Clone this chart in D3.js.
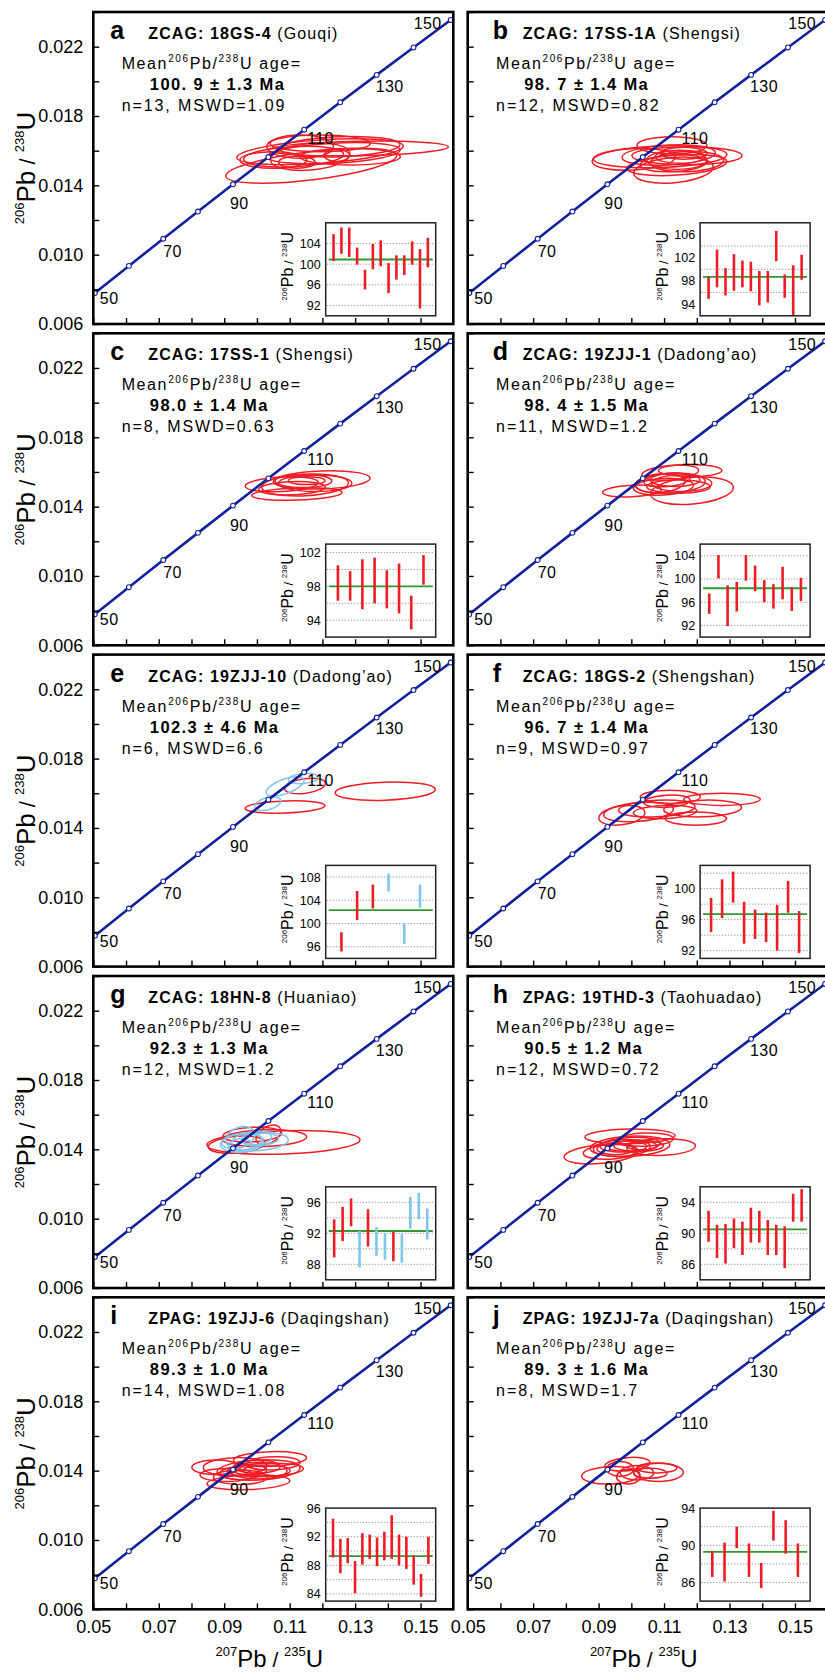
<!DOCTYPE html>
<html>
<head>
<meta charset="utf-8">
<script src="https://cdn.jsdelivr.net/npm/d3@7"></script>
<style>
  body { margin: 0; background: #fff; }
  text { font-family: "Liberation Sans", Arial, sans-serif; }
</style>
</head>
<body>
<div id="chart"></div>
<script>
// concordia reference ages (Ma) with their 207Pb/235U and 206Pb/238U ratios
const concAges = [45, 50, 60, 70, 80, 90, 100, 110, 120, 130, 140, 150, 155];
const concX = [0.04532, 0.05048, 0.06087, 0.07137, 0.08198, 0.09268, 0.10350, 0.11442, 0.12545, 0.13659, 0.14784, 0.15920, 0.16492];
const concY = [0.007005, 0.007786, 0.009351, 0.010918, 0.012487, 0.014059, 0.015633, 0.017210, 0.018789, 0.020371, 0.021955, 0.023542, 0.024336];
const concLabels = [50, 70, 90, 110, 130, 150];

const xTickVals = [0.05, 0.06, 0.07, 0.08, 0.09, 0.10, 0.11, 0.12, 0.13, 0.14, 0.15];
const xTickLabels = ['0.05', '', '0.07', '', '0.09', '', '0.11', '', '0.13', '', '0.15'];
const yTickVals = [0.006, 0.008, 0.010, 0.012, 0.014, 0.016, 0.018, 0.020, 0.022, 0.024];
const yTickLabels = ['0.006', '', '0.010', '', '0.014', '', '0.018', '', '0.022', ''];

const panelIds = ['a', 'b', 'c', 'd', 'e', 'f', 'g', 'h', 'i', 'j'];
const suites = ['ZCAG', 'ZCAG', 'ZCAG', 'ZCAG', 'ZCAG', 'ZCAG', 'ZCAG', 'ZPAG', 'ZPAG', 'ZPAG'];
const samples = ['18GS-4', '17SS-1A', '17SS-1', '19ZJJ-1', '19ZJJ-10', '18GS-2', '18HN-8', '19THD-3', '19ZJJ-6', '19ZJJ-7a'];
const localities = ['Gouqi', 'Shengsi', 'Shengsi', 'Dadong\u2019ao', 'Dadong\u2019ao', 'Shengshan', 'Huaniao', 'Taohuadao', 'Daqingshan', 'Daqingshan'];
const ageTexts = ['100. 9 \u00b1 1.3 Ma', '98. 7 \u00b1 1.4 Ma', '98.0 \u00b1 1.4 Ma', '98. 4 \u00b1 1.5 Ma', '102.3 \u00b1 4.6 Ma',
                  '96. 7 \u00b1 1.4 Ma', '92.3 \u00b1 1.3 Ma', '90.5 \u00b1 1.2 Ma', '89.3 \u00b1 1.0 Ma', '89. 3 \u00b1 1.6 Ma'];
const nValues = [13, 12, 8, 11, 6, 9, 12, 12, 14, 8];
const mswdValues = ['1.09', '0.82', '0.63', '1.2', '6.6', '0.97', '1.2', '0.72', '1.08', '1.7'];
const meanAges = [100.9, 98.7, 98.0, 98.4, 102.3, 96.7, 92.3, 90.5, 89.3, 89.3];

// inset (weighted mean plot) axes
const insetDomains = [[90, 108], [92, 108], [92, 103], [90, 106], [94, 110], [91, 103], [86, 98], [84, 96], [83, 96], [84, 94]];
const insetTicks = [[92, 96, 100, 104], [94, 98, 102, 106], [94, 98, 102], [92, 96, 100, 104], [96, 100, 104, 108],
                    [92, 96, 100], [88, 92, 96], [86, 90, 94], [84, 88, 92, 96], [86, 90, 94]];
const insetGridStep = [4, 4, 2, 4, 4, 2, 2, 2, 2, 2];

// ellipses: [207/235 centre, 206/238 centre, half-width (207/235), half-height (206/238), tilt deg, group]
const ellA = [
  [0.1166, 0.01513, 0.0263, 0.00081, -7, 0], [0.1310, 0.01613, 0.0275, 0.00042, -1, 0],
  [0.1193, 0.01594, 0.0255, 0.00067, -4, 0], [0.1122, 0.01533, 0.0056, 0.00035, 0, 0],
  [0.1244, 0.01573, 0.0039, 0.00035, 0, 0], [0.1132, 0.01623, 0.0102, 0.00067, 0, 0],
  [0.1193, 0.01642, 0.0153, 0.00048, 0, 0], [0.1112, 0.01565, 0.0153, 0.00058, -3, 0],
  [0.1234, 0.01585, 0.0204, 0.00058, -3, 0], [0.1050, 0.01546, 0.0102, 0.00048, 0, 0],
  [0.1285, 0.01565, 0.0153, 0.00048, 0, 0], [0.1163, 0.01565, 0.0122, 0.00077, -5, 0],
  [0.1254, 0.01623, 0.0183, 0.00058, -2, 0]
];
const ellB = [
  [0.1007, 0.01550, 0.0127, 0.00062, -3, 0], [0.1088, 0.01565, 0.0204, 0.00062, -2, 0],
  [0.1170, 0.01571, 0.0168, 0.00052, 0, 0], [0.1124, 0.01631, 0.0107, 0.00050, 0, 0],
  [0.1129, 0.01488, 0.0122, 0.00073, -5, 0], [0.1139, 0.01546, 0.0092, 0.00054, 0, 0],
  [0.1149, 0.01565, 0.0076, 0.00038, 0, 0], [0.1129, 0.01527, 0.0102, 0.00048, -3, 0],
  [0.1170, 0.01537, 0.0112, 0.00058, -2, 0], [0.1114, 0.01575, 0.0143, 0.00058, -3, 0],
  [0.1160, 0.01585, 0.0071, 0.00035, 0, 0], [0.1139, 0.01517, 0.0153, 0.00058, -4, 0]
];
const ellC = [
  [0.1076, 0.01529, 0.0112, 0.00042, -3, 0], [0.1198, 0.01554, 0.0148, 0.00052, -2, 0],
  [0.1122, 0.01473, 0.0138, 0.00035, -2, 0], [0.1142, 0.01548, 0.0087, 0.00038, 0, 0],
  [0.1152, 0.01550, 0.0056, 0.00023, 0, 0], [0.1147, 0.01525, 0.0133, 0.00062, -3, 0],
  [0.1107, 0.01506, 0.0102, 0.00038, -2, 0], [0.1178, 0.01535, 0.0112, 0.00048, 0, 0]
];
const ellD = [
  [0.1002, 0.01490, 0.0090, 0.00033, -3, 0], [0.1180, 0.01608, 0.0097, 0.00035, 0, 0],
  [0.1185, 0.01492, 0.0127, 0.00077, -5, 0], [0.1119, 0.01596, 0.0087, 0.00042, -5, 0],
  [0.1119, 0.01535, 0.0107, 0.00058, -3, 0], [0.1134, 0.01554, 0.0076, 0.00038, 0, 0],
  [0.1098, 0.01515, 0.0092, 0.00048, -3, 0], [0.1154, 0.01535, 0.0092, 0.00048, 0, 0],
  [0.1109, 0.01554, 0.0071, 0.00038, -5, 0], [0.1144, 0.01515, 0.0097, 0.00038, 0, 0],
  [0.1088, 0.01535, 0.0076, 0.00054, -5, 0]
];
const ellE = [
  [0.1392, 0.01612, 0.0153, 0.00052, -2, 0], [0.1147, 0.01642, 0.0063, 0.00042, -8, 0],
  [0.1086, 0.01521, 0.0122, 0.00035, -2, 0], [0.1086, 0.01640, 0.0061, 0.00042, -20, 1],
  [0.1033, 0.01540, 0.0041, 0.00035, -15, 1], [0.1142, 0.01685, 0.0046, 0.00029, -5, 1]
];
const ellF = [
  [0.0971, 0.01473, 0.0071, 0.00054, -8, 0], [0.1022, 0.01492, 0.0107, 0.00054, -5, 0],
  [0.1078, 0.01512, 0.0117, 0.00048, -3, 0], [0.1119, 0.01579, 0.0092, 0.00038, 0, 0],
  [0.1277, 0.01565, 0.0117, 0.00035, 0, 0], [0.1218, 0.01512, 0.0119, 0.00048, -2, 0],
  [0.1197, 0.01454, 0.0094, 0.00038, 0, 0], [0.1103, 0.01492, 0.0097, 0.00038, -2, 0],
  [0.1109, 0.01554, 0.0071, 0.00035, -3, 0]
];
const ellG = [
  [0.1081, 0.01440, 0.0234, 0.00067, -2, 0], [0.1023, 0.01465, 0.0129, 0.00048, -2, 0],
  [0.1035, 0.01483, 0.0041, 0.00048, -30, 0], [0.0986, 0.01485, 0.0090, 0.00042, -3, 0],
  [0.0938, 0.01427, 0.0087, 0.00048, -5, 0], [0.0994, 0.01446, 0.0102, 0.00054, -3, 1],
  [0.0954, 0.01437, 0.0066, 0.00054, -5, 1], [0.0949, 0.01469, 0.0046, 0.00058, -20, 1],
  [0.0969, 0.01446, 0.0046, 0.00048, -10, 1], [0.0949, 0.01423, 0.0036, 0.00038, -5, 1],
  [0.0999, 0.01465, 0.0046, 0.00038, -5, 1], [0.1010, 0.01456, 0.0056, 0.00035, -5, 1]
];
const ellH = [
  [0.0908, 0.01373, 0.0114, 0.00054, -5, 0], [0.0996, 0.01475, 0.0138, 0.00042, -1, 0],
  [0.1091, 0.01413, 0.0105, 0.00048, -2, 0], [0.0996, 0.01417, 0.0122, 0.00058, -3, 0],
  [0.0971, 0.01408, 0.0087, 0.00048, -3, 0], [0.0996, 0.01427, 0.0092, 0.00042, -3, 0],
  [0.1022, 0.01421, 0.0076, 0.00033, 0, 0], [0.0986, 0.01417, 0.0061, 0.00029, 0, 0],
  [0.0935, 0.01385, 0.0082, 0.00042, -3, 0], [0.1042, 0.01456, 0.0087, 0.00038, -2, 0],
  [0.0951, 0.01402, 0.0056, 0.00033, 0, 0], [0.1032, 0.01421, 0.0046, 0.00025, 0, 0]
];
const ellI = [
  [0.0875, 0.01419, 0.0074, 0.00042, 0, 0], [0.0933, 0.01423, 0.0097, 0.00052, -2, 0],
  [0.1040, 0.01467, 0.0112, 0.00042, -2, 0], [0.0974, 0.01333, 0.0127, 0.00042, -2, 0],
  [0.1005, 0.01404, 0.0127, 0.00058, -3, 0], [0.1005, 0.01400, 0.0087, 0.00048, 0, 0],
  [0.1025, 0.01404, 0.0117, 0.00038, -2, 0], [0.1000, 0.01423, 0.0071, 0.00038, 0, 0],
  [0.0949, 0.01362, 0.0082, 0.00042, 0, 0], [0.1030, 0.01400, 0.0071, 0.00033, 0, 0],
  [0.0949, 0.01385, 0.0061, 0.00038, 0, 0], [0.1050, 0.01442, 0.0082, 0.00038, -2, 0],
  [0.0979, 0.01404, 0.0051, 0.00029, 0, 0], [0.0908, 0.01375, 0.0082, 0.00038, 0, 0]
];
const ellJ = [
  [0.0937, 0.01373, 0.0089, 0.00050, -2, 0], [0.0988, 0.01437, 0.0069, 0.00038, -5, 0],
  [0.1083, 0.01390, 0.0076, 0.00052, 0, 0], [0.0991, 0.01365, 0.0036, 0.00042, 0, 0],
  [0.0966, 0.01410, 0.0041, 0.00042, 0, 0], [0.1078, 0.01415, 0.0061, 0.00029, 0, 0],
  [0.1017, 0.01388, 0.0051, 0.00042, 0, 0], [0.1058, 0.01385, 0.0051, 0.00029, 0, 0]
];

// inset bars: [age low, age high, group] in Ma
const barsA = [[100.6, 105.8], [102.0, 107.1], [101.4, 107.1], [99.9, 103.2], [95.1, 98.9], [99.0, 103.9], [99.6, 104.6],
               [94.4, 100.2], [97.0, 101.7], [97.9, 101.7], [99.9, 104.4], [91.4, 102.9], [99.4, 105.1]];
const barsB = [[94.9, 98.7], [96.9, 103.4], [95.5, 100.2], [96.3, 102.6], [96.9, 101.5], [96.2, 101.3], [93.8, 99.7],
               [94.3, 99.7], [101.4, 106.6], [95.1, 99.1], [92.1, 100.7], [98.2, 102.5]];
const barsC = [[96.3, 100.5], [96.3, 99.8], [95.3, 101.2], [96.0, 101.4], [95.4, 99.9], [94.8, 100.7], [92.9, 96.9], [98.2, 101.7]];
const barsD = [[94.0, 97.5], [100.1, 104.1], [91.9, 98.9], [94.4, 99.5], [99.7, 104.1], [97.9, 102.3], [96.0, 99.8],
               [94.9, 99.1], [96.5, 102.1], [94.5, 98.6], [96.2, 100.2]];
const barsE = [[95.2, 98.5, 0], [100.6, 105.6, 0], [102.6, 106.7, 0], [105.5, 108.6, 1], [96.5, 100.0, 1], [102.7, 106.7, 1]];
const barsF = [[94.4, 98.8], [96.2, 101.2], [98.2, 102.2], [92.9, 98.3], [93.5, 97.3], [93.1, 96.9], [92.0, 97.9], [96.9, 101.0], [91.7, 97.1]];
const barsG = [[88.9, 93.8, 0], [91.0, 95.4, 0], [92.9, 96.5, 0], [87.6, 92.3, 1], [90.3, 95.1, 0], [89.1, 92.8, 1],
               [88.6, 92.0, 1], [88.4, 92.2, 0], [88.2, 91.9, 1], [92.6, 96.7, 1], [93.8, 97.2, 1], [91.2, 95.2, 1]];
const barsH = [[88.9, 92.9], [86.8, 91.1], [86.1, 91.2], [88.1, 91.9], [87.2, 91.5], [88.8, 93.3], [88.8, 92.9],
               [87.2, 91.7], [87.2, 91.1], [85.5, 90.9], [91.5, 95.1], [91.5, 95.7]];
const barsI = [[89.1, 94.5], [86.9, 91.7], [88.3, 91.8], [84.1, 88.6], [88.1, 92.5], [88.9, 92.3], [87.9, 91.9],
               [88.7, 92.7], [88.9, 95.0], [88.0, 92.3], [87.5, 92.0], [85.3, 89.4], [83.6, 86.8], [88.2, 92.0]];
const barsJ = [[86.6, 89.4], [86.1, 90.3], [89.7, 92.0], [86.6, 90.2], [85.4, 88.1], [90.5, 93.7], [89.1, 92.7], [86.6, 90.2]];

const ellipseSets = [ellA, ellB, ellC, ellD, ellE, ellF, ellG, ellH, ellI, ellJ];
const barSets = [barsA, barsB, barsC, barsD, barsE, barsF, barsG, barsH, barsI, barsJ];

// ---- layout ----
const W = 825, H = 1673;
const panelW = 360, panelH = 312;
const colLeft = [93.3, 467.7];
const rowTop = [12, 333.3, 654.6, 976, 1297.3];
const inset = { x: 232.4, y: 210.8, w: 110, h: 93 };
const groupColor = ['#ee1c25', '#7fc6ec'];
const curveColor = '#13219c';

const svg = d3.select('#chart').append('svg')
  .attr('width', W).attr('height', H);
svg.append('rect').attr('width', W).attr('height', H).attr('fill', '#fff');

svg.append('defs').append('clipPath').attr('id', 'plotClip')
  .append('rect').attr('width', panelW).attr('height', panelH);

const x = d3.scaleLinear().domain([0.05, 0.16]).range([0, panelW]);
const y = d3.scaleLinear().domain([0.006, 0.024]).range([panelH, 0]);

const conc = concAges.map((a, i) => ({ age: a, x: concX[i], y: concY[i] }));
const concLine = d3.line().x(d => x(d.x)).y(d => y(d.y)).curve(d3.curveMonotoneX);

// label placement around concordia points (px)
const concLabelPos = { 50: [5, 11, 'start'], 70: [0, 18, 'start'], 90: [-3, 25, 'start'],
                       110: [3, 14, 'start'], 130: [-1, 17, 'start'], 150: [-9, 9, 'end'] };

// writes text with superscripts as tspans
function addRich(sel, parts) {
  let shift = 0;
  parts.forEach(p => {
    const up = p.up || 0;
    const ts = sel.append('tspan').text(p.t);
    if (up !== shift) ts.attr('dy', shift - up);
    shift = up;
    if (p.fs) ts.attr('font-size', p.fs);
    if (p.fw) ts.attr('font-weight', p.fw);
  });
}

panelIds.forEach((id, i) => {
  const col = i % 2, row = Math.floor(i / 2);
  const g = svg.append('g').attr('transform', `translate(${colLeft[col]},${rowTop[row]})`);
  const plot = g.append('g').attr('clip-path', 'url(#plotClip)');

  // analysis ellipses
  plot.selectAll('ellipse')
    .data(ellipseSets[i])
    .join('ellipse')
    .attr('transform', d => `translate(${x(d[0])},${y(d[1])}) rotate(${d[4]})`)
    .attr('rx', d => x(0.05 + d[2]) - x(0.05))
    .attr('ry', d => y(0.006) - y(0.006 + d[3]))
    .attr('fill', 'none')
    .attr('stroke', d => groupColor[d[5]])
    .attr('stroke-width', 1.5);

  // concordia curve
  plot.append('path')
    .datum(conc)
    .attr('d', concLine)
    .attr('fill', 'none')
    .attr('stroke', curveColor)
    .attr('stroke-width', 2.6);

  plot.selectAll('circle')
    .data(conc.filter(d => d.age >= 50 && d.age <= 150))
    .join('circle')
    .attr('cx', d => x(d.x)).attr('cy', d => y(d.y))
    .attr('r', 2.4)
    .attr('fill', '#fff')
    .attr('stroke', curveColor)
    .attr('stroke-width', 1.1);

  g.selectAll('.age-label')
    .data(conc.filter(d => concLabels.includes(d.age)))
    .join('text')
    .attr('class', 'age-label')
    .attr('x', d => x(d.x) + concLabelPos[d.age][0])
    .attr('y', d => y(d.y) + concLabelPos[d.age][1])
    .attr('text-anchor', d => concLabelPos[d.age][2])
    .attr('font-size', 16)
    .attr('letter-spacing', 0.4)
    .text(d => d.age);

  // axes with inward ticks
  const xAxis = d3.axisBottom(x)
    .tickValues(xTickVals)
    .tickSizeInner(-6).tickSizeOuter(0).tickPadding(11)
    .tickFormat((d, k) => row === 4 ? xTickLabels[k] : '');
  const xg = g.append('g').attr('transform', `translate(0,${panelH})`).call(xAxis);

  const yAxis = d3.axisLeft(y)
    .tickValues(yTickVals)
    .tickSizeInner(-6).tickSizeOuter(0).tickPadding(10)
    .tickFormat((d, k) => col === 0 ? yTickLabels[k] : '');
  const yg = g.append('g').call(yAxis);

  [xg, yg].forEach(a => {
    a.select('.domain').remove();
    a.selectAll('line').attr('stroke', '#000').attr('stroke-width', 1.4);
    a.selectAll('text').attr('font-size', 18).attr('fill', '#000')
      .attr('font-family', '"Liberation Sans", Arial, sans-serif');
  });

  g.append('rect')
    .attr('width', panelW).attr('height', panelH)
    .attr('fill', 'none').attr('stroke', '#000').attr('stroke-width', 2.6);

  // panel heading and statistics
  g.append('text')
    .attr('x', col === 0 ? 17 : 25).attr('y', 27)
    .attr('font-size', 25).attr('font-weight', 'bold')
    .text(id);

  const title = g.append('text').attr('x', 55).attr('y', 27)
    .attr('font-size', 16).attr('letter-spacing', 1.1);
  addRich(title, [{ t: `${suites[i]}: ${samples[i]}`, fw: 'bold' }, { t: ` (${localities[i]})` }]);

  const mean = g.append('text').attr('x', 28.4).attr('y', 57)
    .attr('font-size', 16).attr('letter-spacing', 1.6);
  addRich(mean, [{ t: 'Mean' }, { t: '206', fs: 10, up: 7 }, { t: 'Pb/' }, { t: '238', fs: 10, up: 7 }, { t: 'U age=' }]);

  g.append('text').attr('x', 56.5).attr('y', 78)
    .attr('font-size', 16.5).attr('font-weight', 'bold').attr('letter-spacing', 1.4)
    .text(ageTexts[i]);

  g.append('text').attr('x', 28.4).attr('y', 99)
    .attr('font-size', 16).attr('letter-spacing', 1.9)
    .text(`n=${nValues[i]}, MSWD=${mswdValues[i]}`);

  // weighted mean inset
  const ig = g.append('g').attr('transform', `translate(${inset.x},${inset.y})`);
  const dom = insetDomains[i];
  const iy = d3.scaleLinear().domain(dom).range([inset.h, 0]);
  const bars = barSets[i];
  const ix = d3.scalePoint().domain(d3.range(bars.length)).range([0, inset.w]).padding(1);

  ig.append('rect').attr('width', inset.w).attr('height', inset.h).attr('fill', '#fff');

  const step = insetGridStep[i];
  const grid = d3.range(Math.ceil(dom[0] / step) * step, dom[1] + 0.001, step)
    .filter(v => v > dom[0] && v < dom[1]);
  ig.selectAll('.grid')
    .data(grid)
    .join('line')
    .attr('class', 'grid')
    .attr('x1', 1).attr('x2', inset.w - 1)
    .attr('y1', d => iy(d)).attr('y2', d => iy(d))
    .attr('stroke', '#777').attr('stroke-width', 0.8)
    .attr('stroke-dasharray', '1.2,1.8');

  ig.append('line')
    .attr('x1', 3).attr('x2', inset.w - 3)
    .attr('y1', iy(meanAges[i])).attr('y2', iy(meanAges[i]))
    .attr('stroke', '#2f9a2f').attr('stroke-width', 1.8);

  ig.selectAll('.bar')
    .data(bars)
    .join('line')
    .attr('class', 'bar')
    .attr('x1', (d, k) => ix(k)).attr('x2', (d, k) => ix(k))
    .attr('y1', d => iy(d[0])).attr('y2', d => iy(d[1]))
    .attr('stroke', d => groupColor[d[2] || 0])
    .attr('stroke-width', 2.6);

  ig.append('rect').attr('width', inset.w).attr('height', inset.h)
    .attr('fill', 'none').attr('stroke', '#222').attr('stroke-width', 1.5);

  ig.selectAll('.itick')
    .data(insetTicks[i])
    .join('text')
    .attr('class', 'itick')
    .attr('x', -5).attr('y', d => iy(d)).attr('dy', '0.36em')
    .attr('text-anchor', 'end').attr('font-size', 12.5)
    .text(d => d);

  const it = ig.append('text')
    .attr('transform', `translate(-32.5,${inset.h / 2 - 3}) rotate(-90)`)
    .attr('text-anchor', 'middle').attr('font-size', 16);
  addRich(it, [{ t: '206', fs: 8, up: 6 }, { t: 'Pb' }, { t: ' / ', fs: 13 }, { t: '238', fs: 8, up: 6 }, { t: 'U' }]);

  // main y-axis title on left column
  if (col === 0) {
    const yt = g.append('text')
      .attr('transform', `translate(-58,${panelH / 2}) rotate(-90)`)
      .attr('text-anchor', 'middle').attr('font-size', 26);
    addRich(yt, [{ t: '206', fs: 13, up: 11 }, { t: 'Pb' }, { t: ' / ', fs: 22 }, { t: '238', fs: 13, up: 11 }, { t: 'U' }]);
  }

  // main x-axis title under the bottom row
  if (row === 4) {
    const xt = g.append('text')
      .attr('x', panelW / 2 - 4).attr('y', panelH + 58)
      .attr('text-anchor', 'middle').attr('font-size', 24);
    addRich(xt, [{ t: '207', fs: 13, up: 11 }, { t: 'Pb' }, { t: ' / ', fs: 21 }, { t: '235', fs: 13, up: 11 }, { t: 'U' }]);
  }
});
</script>
</body>
</html>
